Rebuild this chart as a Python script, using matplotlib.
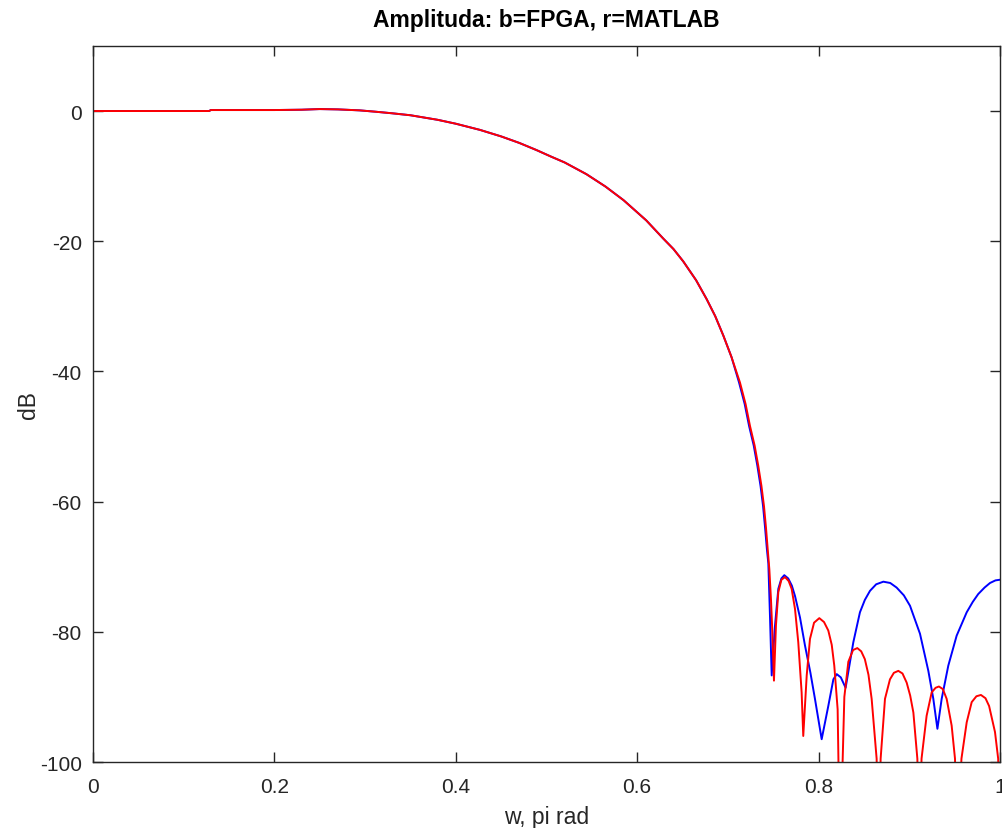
import numpy as np
import matplotlib
matplotlib.use("Agg")
import matplotlib.pyplot as plt

# frequency (w / pi) and magnitude (dB)
w_pass = [0.0, 0.05, 0.10, 0.128, 0.13, 0.20, 0.23, 0.25, 0.27, 0.294, 0.311,
          0.33, 0.35, 0.38, 0.40, 0.4267, 0.45, 0.47, 0.489, 0.505, 0.52,
          0.544, 0.565, 0.585, 0.61, 0.6288, 0.64, 0.6508, 0.665, 0.6766,
          0.686, 0.695, 0.704]
db_pass = [0.0, 0.0, 0.0, 0.0, 0.15, 0.15, 0.2, 0.3, 0.25, 0.1, -0.1,
           -0.35, -0.65, -1.35, -1.95, -2.9, -3.9, -4.9, -6.0, -7.0, -7.9,
           -9.7, -11.6, -13.7, -16.8, -19.6, -21.2, -23.1, -26.0, -28.9,
           -31.5, -34.5, -37.8]

# FPGA (blue) stopband
w_fpga = [0.7123, 0.7185, 0.7234, 0.7285, 0.7325, 0.736, 0.7388, 0.741,
          0.7430, 0.7446, 0.7465, 0.7483,
          0.7519, 0.7556, 0.7590, 0.7622, 0.7665, 0.7705, 0.774, 0.7795,
          0.785, 0.791, 0.796, 0.8034, 0.8107, 0.8163, 0.820, 0.8245, 0.8298,
          0.8383, 0.8456, 0.851, 0.8567, 0.8635, 0.8714, 0.879, 0.886, 0.894,
          0.9008, 0.9118, 0.921, 0.9265, 0.931, 0.9357, 0.943, 0.9522,
          0.9633, 0.970, 0.976, 0.983, 0.989, 0.995, 1.0]
db_fpga = [-41.7, -45.0, -48.4, -51.4, -54.5, -57.6, -60.7, -64.0,
           -67.3, -69.5, -78.0, -86.7,
           -79.1, -73.4, -71.8, -71.3, -71.8, -72.9, -74.5, -77.8,
           -82.1, -86.3, -90.3, -96.5, -91.4, -87.3, -86.5, -87.0, -88.6,
           -81.6, -77.0, -75.1, -73.7, -72.7, -72.3, -72.5, -73.2, -74.4,
           -76.0, -80.3, -86.0, -90.3, -94.9, -90.3, -85.2, -80.6,
           -77.0, -75.4, -74.2, -73.2, -72.5, -72.1, -72.0]

# MATLAB (red) stopband
w_matlab = [0.7133, 0.7195, 0.7244, 0.7295, 0.7335, 0.737, 0.7398, 0.742,
            0.7439, 0.7457, 0.7475, 0.7490,
            0.7508, 0.7530, 0.7556, 0.7590, 0.763, 0.7670, 0.7703, 0.774,
            0.7776, 0.7813, 0.7831, 0.7869, 0.7905, 0.795, 0.8008, 0.806,
            0.8107, 0.8145, 0.8173, 0.821, 0.8236, 0.8284, 0.8328, 0.8380,
            0.8427, 0.8470, 0.851, 0.855, 0.8585, 0.864, 0.866, 0.8684,
            0.8732, 0.8787, 0.883, 0.8879, 0.8925, 0.8971, 0.901, 0.9045,
            0.9089, 0.911, 0.9135, 0.9191, 0.9247, 0.9290, 0.9327, 0.937,
            0.9412, 0.9467, 0.9504, 0.953, 0.9575, 0.9633, 0.9688, 0.974,
            0.979, 0.984, 0.988, 0.9945, 0.998, 1.0]
db_matlab = [-41.7, -45.0, -48.4, -51.4, -54.5, -57.6, -60.7, -64.0,
             -67.3, -70.4, -75.0, -80.0,
             -87.5, -79.0, -73.9, -72.0, -71.6, -72.2, -73.4, -76.5,
             -81.6, -89.3, -96.0, -86.7, -81.1, -78.6, -77.9, -78.5,
             -79.8, -82.0, -85.2, -91.9, -115.0, -90.0, -84.6, -82.8,
             -82.5, -83.0, -84.2, -86.6, -90.3, -99.5, -115.0, -99.5,
             -90.3, -87.3, -86.3, -86.0, -86.4, -87.8, -89.8, -92.4,
             -99.5, -115.0, -99.5, -92.9, -89.3, -88.6, -88.4, -88.8,
             -90.3, -94.4, -99.5, -115.0, -99.5, -93.9, -90.8, -89.9,
             -89.7, -90.2, -91.4, -95.4, -99.5, -115.0]

x_ticks = [0, 0.2, 0.4, 0.6, 0.8, 1]
x_ticklabels = ["0", "0.2", "0.4", "0.6", "0.8", "1"]
y_ticks = [-100, -80, -60, -40, -20, 0]

plt.rcParams.update({
    "font.family": ["Liberation Sans", "DejaVu Sans"],
    "font.size": 15,
    "axes.unicode_minus": False,
    "axes.linewidth": 1.0,
    "xtick.direction": "in",
    "ytick.direction": "in",
    "xtick.top": True,
    "ytick.right": True,
})

fig = plt.figure(figsize=(10.03, 8.29), dpi=100)
ax = fig.add_axes([0.0927, 0.0796, 0.9043, 0.8638])

ax.plot(w_pass + w_fpga, db_pass + db_fpga, color="#0000ff", lw=1.4)
ax.plot(w_pass + w_matlab, db_pass + db_matlab, color="#ff0000", lw=1.4)

ax.set_xlim(0, 1)
ax.set_ylim(-100, 10)
ax.set_xticks(x_ticks)
ax.set_xticklabels(x_ticklabels)
ax.set_yticks(y_ticks)
ax.tick_params(axis="both", length=7, width=1.0, colors="#262626",
               labelcolor="#262626", labelsize=15)
ax.tick_params(axis="x", pad=11)
ax.tick_params(axis="y", pad=8)
for sp in ax.spines.values():
    sp.set_color("#262626")

ax.set_xlabel("w, pi rad", color="#262626", fontsize=16.5, labelpad=6)
ax.set_ylabel("dB", color="#262626", fontsize=16.5, labelpad=0)
ax.set_title("Amplituda: b=FPGA, r=MATLAB",
             fontsize=16.5, fontweight="bold", pad=14)

fig.savefig("out.png", dpi=100)
